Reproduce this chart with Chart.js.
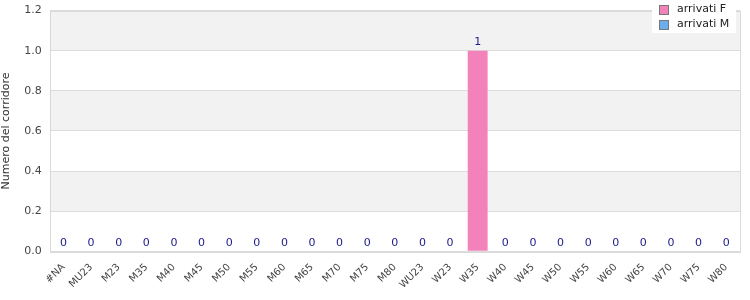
<!DOCTYPE html>
<html>
<head>
<meta charset="utf-8">
<script src="https://cdn.jsdelivr.net/npm/chart.js@4"></script>
<style>
  html, body { margin: 0; padding: 0; background: #fff; overflow: hidden; }
  #wrap { width: 750px; height: 304px; position: relative; margin-top: -4px; }
</style>
</head>
<body>
<div id="wrap"><canvas id="c"></canvas></div>
<script>
const categories = ['#NA','MU23','M23','M35','M40','M45','M50','M55','M60','M65','M70','M75','M80',
  'WU23','W23','W35','W40','W45','W50','W55','W60','W65','W70','W75','W80'];
const arrivatiF = [0,0,0,0,0,0,0,0,0,0,0,0,0,0,0,1,0,0,0,0,0,0,0,0,0];
const arrivatiM = [0,0,0,0,0,0,0,0,0,0,0,0,0,0,0,0,0,0,0,0,0,0,0,0,0];
const seriesNames = ['arrivati F', 'arrivati M'];
const yTitle = 'Numero del corridore';

const FONT = '"DejaVu Sans", Verdana, sans-serif';

// striped background + frame
const bandsPlugin = {
  id: 'bands',
  beforeDraw(chart) {
    const {ctx, chartArea: a, scales: {y}} = chart;
    ctx.save();
    const ticks = y.ticks;
    for (let i = 0; i < ticks.length - 1; i++) {
      const y0 = y.getPixelForValue(ticks[i].value);
      const y1 = y.getPixelForValue(ticks[i + 1].value);
      ctx.fillStyle = i % 2 === 0 ? '#ffffff' : '#f2f2f2';
      ctx.fillRect(a.left, y1, a.right - a.left, y0 - y1);
    }
    ctx.restore();
  },
  afterDraw(chart) {
    const {ctx, chartArea: a} = chart;
    ctx.save();
    ctx.strokeStyle = '#d9d9d9';
    ctx.lineWidth = 1;
    ctx.strokeRect(Math.round(a.left) + 0.5, Math.round(a.top) + 0.5,
      Math.round(a.right - a.left), Math.round(a.bottom - a.top));
    ctx.restore();
  }
};

// value labels for the first series
const valueLabels = {
  id: 'valueLabels',
  afterDatasetsDraw(chart) {
    const {ctx} = chart;
    const meta = chart.getDatasetMeta(0);
    ctx.save();
    ctx.font = '11px ' + FONT;
    ctx.fillStyle = '#1a1a8a';
    ctx.textAlign = 'center';
    ctx.textBaseline = 'bottom';
    meta.data.forEach((bar, i) => {
      ctx.fillText(String(chart.data.datasets[0].data[i]), bar.x, bar.y - 3);
    });
    ctx.restore();
  }
};

// legend box drawn in the top-right corner
const cornerLegend = {
  id: 'cornerLegend',
  afterDraw(chart) {
    const {ctx, chartArea: a} = chart;
    const ds = chart.data.datasets;
    const x0 = a.right - 88, y0 = 4, w = 84, h = 33;
    ctx.save();
    ctx.fillStyle = '#ffffff';
    ctx.fillRect(x0, 0, w, h + y0);
    ctx.font = '11px ' + FONT;
    ctx.textBaseline = 'middle';
    ds.forEach((d, i) => {
      const cy = y0 + 9.5 + i * 15;
      ctx.fillStyle = d.backgroundColor;
      ctx.fillRect(x0 + 7, cy - 4.5, 9, 9);
      ctx.strokeStyle = '#777';
      ctx.lineWidth = 1;
      ctx.strokeRect(x0 + 7.5, cy - 4, 9, 9);
      ctx.fillStyle = '#222';
      ctx.textAlign = 'left';
      ctx.fillText(d.label, x0 + 25, cy);
    });
    ctx.restore();
  }
};

new Chart(document.getElementById('c'), {
  type: 'bar',
  data: {
    labels: categories,
    datasets: [
      {label: seriesNames[0], data: arrivatiF, backgroundColor: '#f282b9', borderWidth: 0},
      {label: seriesNames[1], data: arrivatiM, backgroundColor: '#6aaeea', borderWidth: 0}
    ]
  },
  options: {
    responsive: true,
    maintainAspectRatio: false,
    animation: false,
    layout: {padding: {top: 2, right: 10, left: 0, bottom: 7}},
    datasets: {bar: {categoryPercentage: 1.0, barPercentage: 0.72}},
    plugins: {legend: {display: false}, tooltip: {enabled: false}},
    scales: {
      x: {
        stacked: true,
        grid: {display: false},
        border: {display: false},
        ticks: {
          font: {family: FONT, size: 10},
          color: '#444',
          padding: 2,
          minRotation: 45, maxRotation: 45,
          autoSkip: false
        }
      },
      y: {
        stacked: true,
        min: 0, max: 1.2,
        grid: {color: '#dcdcdc', drawTicks: false},
        border: {display: false},
        ticks: {
          stepSize: 0.2,
          padding: 8,
          font: {family: FONT, size: 11},
          color: '#444',
          callback: v => v.toFixed(1)
        },
        title: {display: true, text: yTitle, font: {family: FONT, size: 11}, color: '#333', padding: {top: 0, bottom: 3}}
      }
    }
  },
  plugins: [bandsPlugin, valueLabels, cornerLegend]
});
</script>
</body>
</html>
